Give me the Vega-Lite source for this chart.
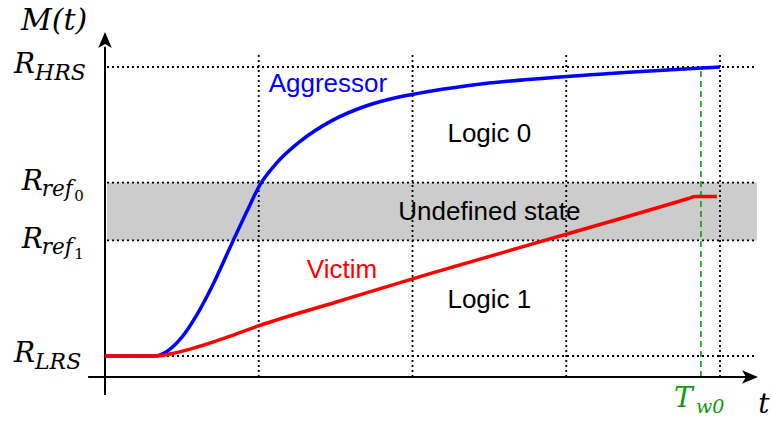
{
  "$schema": "https://vega.github.io/schema/vega-lite/v6.json",
  "width": 771,
  "height": 421,
  "autosize": "none",
  "padding": 0,
  "background": "white",
  "config": {"view": {"stroke": null}},
  "datasets": {
    "curves": [
      {"series": "Aggressor", "t": 0, "M": 0},
      {"series": "Aggressor", "t": 0.325, "M": 0},
      {"series": "Aggressor", "t": 0.4, "M": 0.015},
      {"series": "Aggressor", "t": 0.5, "M": 0.065},
      {"series": "Aggressor", "t": 0.6, "M": 0.145},
      {"series": "Aggressor", "t": 0.7, "M": 0.245},
      {"series": "Aggressor", "t": 0.834, "M": 0.4},
      {"series": "Aggressor", "t": 0.92, "M": 0.497},
      {"series": "Aggressor", "t": 1.008, "M": 0.592},
      {"series": "Aggressor", "t": 1.117, "M": 0.668},
      {"series": "Aggressor", "t": 1.268, "M": 0.742},
      {"series": "Aggressor", "t": 1.485, "M": 0.817},
      {"series": "Aggressor", "t": 1.702, "M": 0.866},
      {"series": "Aggressor", "t": 1.919, "M": 0.897},
      {"series": "Aggressor", "t": 2.114, "M": 0.916},
      {"series": "Aggressor", "t": 2.459, "M": 0.942},
      {"series": "Aggressor", "t": 3.005, "M": 0.967},
      {"series": "Aggressor", "t": 3.545, "M": 0.986},
      {"series": "Aggressor", "t": 4.0, "M": 1.0},
      {"series": "Victim", "t": 0, "M": 0},
      {"series": "Victim", "t": 0.325, "M": 0},
      {"series": "Victim", "t": 0.45, "M": 0.01},
      {"series": "Victim", "t": 0.6, "M": 0.031},
      {"series": "Victim", "t": 0.8, "M": 0.066},
      {"series": "Victim", "t": 1.008, "M": 0.106},
      {"series": "Victim", "t": 1.5, "M": 0.186},
      {"series": "Victim", "t": 2.114, "M": 0.285},
      {"series": "Victim", "t": 3.005, "M": 0.422},
      {"series": "Victim", "t": 3.8, "M": 0.546},
      {"series": "Victim", "t": 3.837, "M": 0.552},
      {"series": "Victim", "t": 3.98, "M": 0.552}
    ],
    "levels": [
      {"kind": "state", "sub": "HRS", "subsub": "", "M": 1.0},
      {"kind": "reference", "sub": "ref", "subsub": "0", "M": 0.6},
      {"kind": "reference", "sub": "ref", "subsub": "1", "M": 0.4},
      {"kind": "state", "sub": "LRS", "subsub": "", "M": 0.0}
    ],
    "band": [{"lo": 0.4, "hi": 0.6}],
    "ticks": [{"t": 1}, {"t": 2}, {"t": 3}, {"t": 4}],
    "deadline": [{"name": "T_w0", "t": 3.876}],
    "notes": [
      {"text": "Aggressor", "series": "Aggressor", "t": 1.45, "M": 0.9135},
      {"text": "Logic 0", "series": "Region", "t": 2.5, "M": 0.74},
      {"text": "Undefined state", "series": "Region", "t": 2.5, "M": 0.471},
      {"text": "Victim", "series": "Victim", "t": 1.541, "M": 0.27},
      {"text": "Logic 1", "series": "Region", "t": 2.5, "M": 0.166}
    ]
  },
  "layer": [
    {
      "data": {"name": "band"},
      "mark": {"type": "rect", "color": "#cccccc"},
      "encoding": {
        "x": {"datum": 0.013, "type": "quantitative", "axis": null,
              "scale": {"domain": [-0.68293, 4.33171], "nice": false, "zero": false}},
        "x2": {"datum": 4.24},
        "y": {"field": "lo", "type": "quantitative", "axis": null,
              "scale": {"domain": [-0.22491, 1.23183], "nice": false, "zero": false}},
        "y2": {"field": "hi"}
      }
    },
    {
      "data": {"name": "levels"},
      "mark": {"type": "rule", "color": "black", "strokeWidth": 1.8, "strokeDash": [2, 3]},
      "encoding": {
        "x": {"datum": 0.013, "type": "quantitative"},
        "x2": {"datum": 4.24},
        "y": {"field": "M", "type": "quantitative"}
      }
    },
    {
      "data": {"name": "ticks"},
      "mark": {"type": "rule", "color": "black", "strokeWidth": 1.8, "strokeDash": [2, 3]},
      "encoding": {
        "x": {"field": "t", "type": "quantitative"},
        "y": {"datum": -0.0727, "type": "quantitative"},
        "y2": {"datum": 1.052}
      }
    },
    {
      "data": {"name": "deadline"},
      "mark": {"type": "rule", "color": "#119911", "strokeWidth": 1.6, "strokeDash": [6, 4]},
      "encoding": {
        "x": {"field": "t", "type": "quantitative"},
        "y": {"datum": -0.0727, "type": "quantitative"},
        "y2": {"datum": 0.99}
      }
    },
    {
      "data": {"values": [{}]},
      "mark": {"type": "rule", "color": "black", "strokeWidth": 2},
      "encoding": {
        "x": {"datum": -0.11, "type": "quantitative"},
        "x2": {"datum": 4.17},
        "y": {"datum": -0.0727, "type": "quantitative"}
      }
    },
    {
      "data": {"values": [{}]},
      "mark": {"type": "rule", "color": "black", "strokeWidth": 2},
      "encoding": {
        "x": {"datum": 0, "type": "quantitative"},
        "y": {"datum": -0.135, "type": "quantitative"},
        "y2": {"datum": 1.07}
      }
    },
    {
      "data": {"values": [{}]},
      "mark": {"type": "point", "filled": true, "color": "black", "opacity": 1, "size": 256,
               "shape": "M0,0L0.85,2L0,1.5L-0.85,2Z"},
      "encoding": {
        "x": {"datum": 0, "type": "quantitative"},
        "y": {"datum": 1.121, "type": "quantitative"}
      }
    },
    {
      "data": {"values": [{}]},
      "mark": {"type": "point", "filled": true, "color": "black", "opacity": 1, "size": 256,
               "shape": "M0,0L-2,-0.85L-1.5,0L-2,0.85Z"},
      "encoding": {
        "x": {"datum": 4.247, "type": "quantitative"},
        "y": {"datum": -0.0727, "type": "quantitative"}
      }
    },
    {
      "data": {"name": "curves"},
      "mark": {"type": "line", "strokeWidth": 3.5, "interpolate": "monotone"},
      "encoding": {
        "x": {"field": "t", "type": "quantitative"},
        "y": {"field": "M", "type": "quantitative"},
        "color": {"field": "series", "type": "nominal", "legend": null,
                  "scale": {"domain": ["Aggressor", "Victim", "Region"], "range": ["#0000ff", "#ff0000", "#000000"]}}
      }
    },
    {
      "data": {"name": "notes"},
      "mark": {"type": "text", "font": "Liberation Sans", "fontSize": 26, "align": "center", "baseline": "alphabetic"},
      "encoding": {
        "x": {"field": "t", "type": "quantitative"},
        "y": {"field": "M", "type": "quantitative"},
        "text": {"field": "text"},
        "color": {"field": "series", "type": "nominal", "legend": null}
      }
    },
    {
      "data": {"name": "levels"},
      "transform": [{"filter": "datum.kind === 'state'"}],
      "layer": [
        {
          "mark": {"type": "text", "font": "DejaVu Serif", "fontStyle": "italic", "fontSize": 28,
                   "align": "left", "baseline": "alphabetic", "dy": 6, "color": "black"},
          "encoding": {
            "x": {"datum": -0.592, "type": "quantitative"},
            "y": {"field": "M", "type": "quantitative"},
            "text": {"value": "R"}
          }
        },
        {
          "mark": {"type": "text", "font": "DejaVu Serif", "fontStyle": "italic", "fontSize": 22,
                   "align": "left", "baseline": "alphabetic", "dx": 21, "dy": 13, "color": "black"},
          "encoding": {
            "x": {"datum": -0.592, "type": "quantitative"},
            "y": {"field": "M", "type": "quantitative"},
            "text": {"field": "sub"}
          }
        }
      ]
    },
    {
      "data": {"name": "levels"},
      "transform": [{"filter": "datum.kind === 'reference'"}],
      "layer": [
        {
          "mark": {"type": "text", "font": "DejaVu Serif", "fontStyle": "italic", "fontSize": 28,
                   "align": "left", "baseline": "alphabetic", "dy": 7.5, "color": "black"},
          "encoding": {
            "x": {"datum": -0.542, "type": "quantitative"},
            "y": {"field": "M", "type": "quantitative"},
            "text": {"value": "R"}
          }
        },
        {
          "mark": {"type": "text", "font": "DejaVu Serif", "fontStyle": "italic", "fontSize": 21.5,
                   "align": "left", "baseline": "alphabetic", "dx": 20, "dy": 13.5, "color": "black"},
          "encoding": {
            "x": {"datum": -0.542, "type": "quantitative"},
            "y": {"field": "M", "type": "quantitative"},
            "text": {"field": "sub"}
          }
        },
        {
          "mark": {"type": "text", "font": "DejaVu Serif", "fontSize": 15,
                   "align": "left", "baseline": "alphabetic", "dx": 52.5, "dy": 18.5, "color": "black"},
          "encoding": {
            "x": {"datum": -0.542, "type": "quantitative"},
            "y": {"field": "M", "type": "quantitative"},
            "text": {"field": "subsub"}
          }
        }
      ]
    },
    {
      "data": {"values": [{}]},
      "mark": {"type": "text", "font": "DejaVu Serif", "fontStyle": "italic", "fontSize": 30,
               "align": "left", "baseline": "alphabetic", "color": "black"},
      "encoding": {
        "x": {"datum": -0.5463, "type": "quantitative"},
        "y": {"datum": 1.128, "type": "quantitative"},
        "text": {"value": "M(t)"}
      }
    },
    {
      "data": {"values": [{}]},
      "mark": {"type": "text", "font": "DejaVu Serif", "fontStyle": "italic", "fontSize": 28,
               "align": "center", "baseline": "alphabetic", "color": "black"},
      "encoding": {
        "x": {"datum": 4.286, "type": "quantitative"},
        "y": {"datum": -0.197, "type": "quantitative"},
        "text": {"value": "t"}
      }
    },
    {
      "data": {"name": "deadline"},
      "layer": [
        {
          "mark": {"type": "text", "font": "DejaVu Serif", "fontStyle": "italic", "fontSize": 28,
                   "align": "left", "baseline": "alphabetic", "dx": -27, "color": "#119911"},
          "encoding": {
            "x": {"field": "t", "type": "quantitative"},
            "y": {"datum": -0.1754, "type": "quantitative"},
            "text": {"value": "T"}
          }
        },
        {
          "mark": {"type": "text", "font": "DejaVu Serif", "fontStyle": "italic", "fontSize": 19,
                   "align": "left", "baseline": "alphabetic", "dx": -5, "dy": 6.6, "color": "#119911"},
          "encoding": {
            "x": {"field": "t", "type": "quantitative"},
            "y": {"datum": -0.1754, "type": "quantitative"},
            "text": {"value": "w0"}
          }
        }
      ]
    }
  ]
}
